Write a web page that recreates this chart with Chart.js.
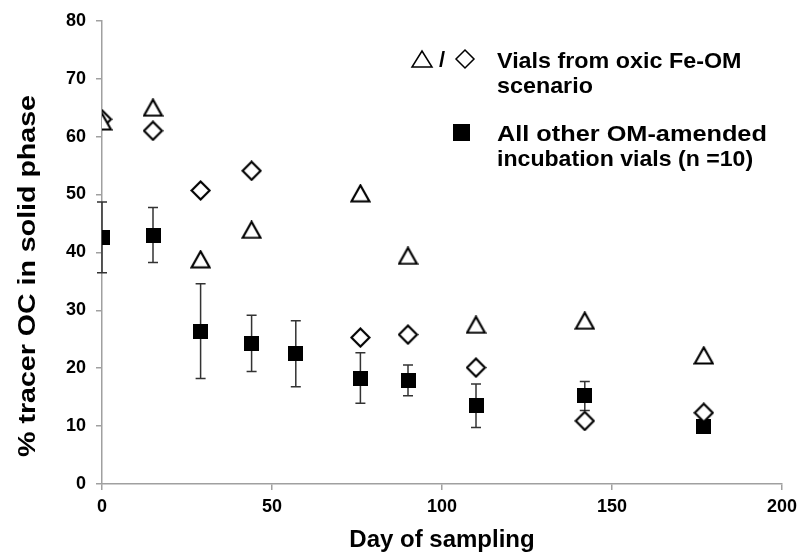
<!DOCTYPE html>
<html>
<head>
<meta charset="utf-8">
<script src="https://cdn.jsdelivr.net/npm/chart.js@4.4.1/dist/chart.umd.min.js"></script>
<style>
  html, body { margin: 0; padding: 0; background: #fff; }
  #wrap { width: 809px; height: 559px; }
</style>
</head>
<body>
<div id="wrap"><canvas id="tracerChart"></canvas></div>
<script>
// sampling days and % tracer OC remaining in the solid phase
const oxicDays = [0, 15, 29, 44, 76, 90, 110, 142, 177];
const oxicTriangle = [62.6, 65, 38.8, 43.9, 50.2, 39.4, 27.5, 28.2, 22.2];
const oxicDiamond = [63, 61, 50.7, 54.1, 25.3, 25.8, 20.1, 10.9, 12.3];

const otherDays = [0, 15, 29, 44, 57, 76, 90, 110, 142, 177];
const otherMean = [42.6, 43, 26.4, 24.3, 22.5, 18.3, 17.9, 13.5, 15.2, 10];
const otherSd = [6.1, 4.75, 8.2, 4.85, 5.7, 4.35, 2.65, 3.75, 2.5, 0];

const xTicks = [0, 50, 100, 150, 200];
const yTicks = [0, 10, 20, 30, 40, 50, 60, 70, 80];

const FONT = "'Liberation Sans', Arial, sans-serif";

// marker images, so each symbol sits centred on its value
function makeMarker(w, h, draw) {
  const c = document.createElement("canvas");
  c.width = w;
  c.height = h;
  const g = c.getContext("2d");
  draw(g, w, h);
  return c;
}

const triangleImg = makeMarker(21, 19, (g, w, h) => {
  g.beginPath();
  g.moveTo(w / 2, 1.5);
  g.lineTo(w - 1.5, h - 1.5);
  g.lineTo(1.5, h - 1.5);
  g.closePath();
  g.fillStyle = "#fff";
  g.fill();
  g.lineWidth = 2.2;
  g.strokeStyle = "#000";
  g.stroke();
});

const diamondImg = makeMarker(21, 21, (g, w, h) => {
  g.beginPath();
  g.moveTo(w / 2, 1.5);
  g.lineTo(w - 1.5, h / 2);
  g.lineTo(w / 2, h - 1.5);
  g.lineTo(1.5, h / 2);
  g.closePath();
  g.fillStyle = "#fff";
  g.fill();
  g.lineWidth = 2.2;
  g.strokeStyle = "#000";
  g.stroke();
});

const squareImg = makeMarker(15, 15, (g, w, h) => {
  g.fillStyle = "#000";
  g.fillRect(0, 0, w, h);
});

function toPoints(xs, ys) {
  return xs.map((x, i) => ({ x: x, y: ys[i] }));
}

// text widened a little along its run
function wideText(ctx, text, x, y, stretch, angle) {
  ctx.save();
  ctx.translate(x, y);
  if (angle) ctx.rotate(angle);
  ctx.scale(stretch, 1);
  ctx.fillText(text, 0, 0);
  ctx.restore();
}

// standard deviation whiskers under the filled squares
const errorBars = {
  id: "errorBars",
  beforeDatasetsDraw(chart) {
    const ctx = chart.ctx;
    const xs = chart.scales.x;
    const ys = chart.scales.y;
    ctx.save();
    ctx.strokeStyle = "#333";
    ctx.lineWidth = 1.5;
    otherDays.forEach((d, i) => {
      if (!otherSd[i]) return;
      const px = xs.getPixelForValue(d);
      const top = ys.getPixelForValue(otherMean[i] + otherSd[i]);
      const bot = ys.getPixelForValue(otherMean[i] - otherSd[i]);
      ctx.beginPath();
      ctx.moveTo(px, top);
      ctx.lineTo(px, bot);
      ctx.moveTo(px - 5, top);
      ctx.lineTo(px + 5, top);
      ctx.moveTo(px - 5, bot);
      ctx.lineTo(px + 5, bot);
      ctx.stroke();
    });
    ctx.restore();
  }
};

// y title and the key written inside the plot area
const labels = {
  id: "labels",
  afterDraw(chart) {
    const ctx = chart.ctx;
    ctx.save();
    ctx.fillStyle = "#000";
    ctx.textBaseline = "alphabetic";

    ctx.font = "bold 24px " + FONT;
    ctx.textAlign = "center";
    wideText(ctx, "% tracer OC in solid phase", 35, 276, 1.19, -Math.PI / 2);

    ctx.lineWidth = 1.5;
    ctx.strokeStyle = "#000";
    // outline triangle / diamond
    ctx.beginPath();
    ctx.moveTo(422, 51);
    ctx.lineTo(432, 67);
    ctx.lineTo(412, 67);
    ctx.closePath();
    ctx.stroke();
    ctx.beginPath();
    ctx.moveTo(465, 50);
    ctx.lineTo(474, 59);
    ctx.lineTo(465, 68);
    ctx.lineTo(456, 59);
    ctx.closePath();
    ctx.stroke();
    ctx.fillRect(453, 124, 17, 17);

    ctx.font = "bold 22px " + FONT;
    ctx.textAlign = "left";
    ctx.fillText("/", 439, 67);
    wideText(ctx, "Vials from oxic Fe-OM", 497, 68, 1.06);
    wideText(ctx, "scenario", 497, 93, 1.06);
    wideText(ctx, "All other OM-amended", 497, 141, 1.15);
    wideText(ctx, "incubation vials (n =10)", 497, 166, 1.05);
    ctx.restore();
  }
};

new Chart(document.getElementById("tracerChart"), {
  type: "scatter",
  data: {
    datasets: [
      {
        label: "Other OM-amended vials",
        data: toPoints(otherDays, otherMean),
        pointStyle: squareImg,
        order: 3
      },
      {
        label: "Oxic Fe-OM (diamond)",
        data: toPoints(oxicDays, oxicDiamond),
        pointStyle: diamondImg,
        order: 2
      },
      {
        label: "Oxic Fe-OM (triangle)",
        data: toPoints(oxicDays, oxicTriangle),
        pointStyle: triangleImg,
        order: 1
      }
    ]
  },
  options: {
    responsive: true,
    maintainAspectRatio: false,
    animation: false,
    layout: { padding: { top: 15, right: 27, left: 0, bottom: 0 } },
    plugins: {
      legend: { display: false },
      tooltip: { enabled: false }
    },
    scales: {
      x: {
        type: "linear",
        min: 0,
        max: 200,
        afterBuildTicks: (s) => { s.ticks = xTicks.map((v) => ({ value: v })); },
        afterFit: (s) => { s.height = 75; },
        ticks: { color: "#000", padding: 6, font: { family: FONT, size: 18, weight: "bold" } },
        grid: { drawOnChartArea: false, drawTicks: true, tickLength: 6, color: "#a0a0a0", lineWidth: 1.5 },
        border: { color: "#a0a0a0", width: 1.5 },
        title: {
          display: true,
          text: "Day of sampling",
          color: "#000",
          font: { family: FONT, size: 24, weight: "bold" },
          padding: { top: 0, bottom: 4 }
        }
      },
      y: {
        min: 0,
        max: 80,
        afterBuildTicks: (s) => { s.ticks = yTicks.map((v) => ({ value: v })); },
        afterFit: (s) => { s.width = 102; },
        ticks: { color: "#000", padding: 10, font: { family: FONT, size: 18, weight: "bold" } },
        grid: { drawOnChartArea: false, drawTicks: true, tickLength: 6, color: "#a0a0a0", lineWidth: 1.5 },
        border: { color: "#a0a0a0", width: 1.5 }
      }
    }
  },
  plugins: [errorBars, labels]
});
</script>
</body>
</html>
